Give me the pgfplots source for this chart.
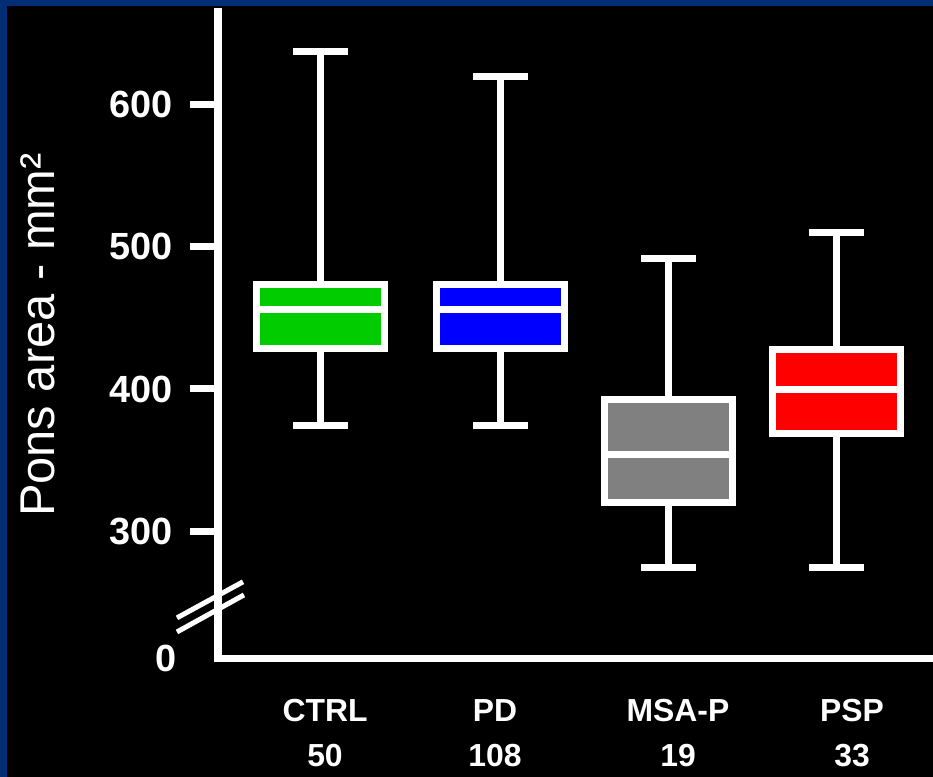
\documentclass[border=0pt]{standalone}
\usepackage{fontspec}
\setmainfont{Liberation Sans}
\usepackage{pgfplots}
\pgfplotsset{compat=1.18}
\usepgfplotslibrary{statistics}
\definecolor{frameblue}{RGB}{0,45,115}
\definecolor{boxgreen}{RGB}{0,204,0}
\definecolor{boxblue}{RGB}{0,0,255}
\definecolor{boxgray}{RGB}{128,128,128}
\definecolor{boxred}{RGB}{255,0,0}
\begin{document}
\begin{tikzpicture}
\fill[frameblue] (0,0) rectangle (466.5bp,388.5bp);
\useasboundingbox (0,0) rectangle (466.5bp,388.5bp);
\fill[black] (3.5bp,0) rectangle (466.5bp,385.65bp);
\begin{axis}[
  at={(109bp,59.35bp)}, anchor=south west,
  scale only axis, width=357.5bp, height=323.2bp,
  xmin=218, xmax=933, ymin=210.9, ymax=664.8,
  clip=false,
  axis lines=left,
  axis line style={white, line width=3.5bp, -, line cap=rect},
  boxplot/draw direction=y,
  ytick={300,400,500,600},
  yticklabels={300,400,500,600},
  extra y ticks={210.9},
  extra y tick labels={0},
  extra y tick style={major tick length=0pt, yticklabel style={xshift=-12bp}},
  tick align=outside,
  major tick length=14bp,
  ytick style={white, line width=3.5bp},
  xtick={325,495,678,852},
  xticklabels={{CTRL\\50},{PD\\108},{MSA-P\\19},{PSP\\33}},
  xtick style={draw=none},
  yticklabel style={text=white, xshift=-5bp, font=\bfseries\fontsize{19}{19}\selectfont},
  xticklabel style={text=white, yshift=-3bp, align=center, font=\bfseries\fontsize{16}{22.5}\selectfont},
  ylabel={Pons area - mm²},
  every axis y label/.style={at={(axis description cs:-0.2517,0.5)}, rotate=90, anchor=center, text=white, font=\fontsize{24.5}{24.5}\selectfont},
]
\addplot[draw=white, fill=boxgreen, line width=3.5bp, boxplot prepared={draw position=320.5, lower whisker=374.1, lower quartile=428.2, median=455.9, upper quartile=473.5, upper whisker=636.7, box extend=128, whisker extend=55}] coordinates {};
\addplot[draw=white, fill=boxblue, line width=3.5bp, boxplot prepared={draw position=500.5, lower whisker=374.1, lower quartile=428.2, median=455.9, upper quartile=473.5, upper whisker=619.2, box extend=128, whisker extend=55}] coordinates {};
\addplot[draw=white, fill=boxgray, line width=3.5bp, boxplot prepared={draw position=668.5, lower whisker=274.4, lower quartile=320.0, median=353.9, upper quartile=392.3, upper whisker=491.4, box extend=128, whisker extend=55}] coordinates {};
\addplot[draw=white, fill=boxred, line width=3.5bp, boxplot prepared={draw position=836, lower whisker=274.4, lower quartile=369.0, median=399.6, upper quartile=427.5, upper whisker=509.6, box extend=128, whisker extend=55}] coordinates {};
\draw[white, line width=2.5bp] (axis cs:177,239.3) -- (axis cs:243,264.6);
\draw[white, line width=2.5bp] (axis cs:177,229.4) -- (axis cs:244,255.4);
\end{axis}
\end{tikzpicture}
\end{document}
